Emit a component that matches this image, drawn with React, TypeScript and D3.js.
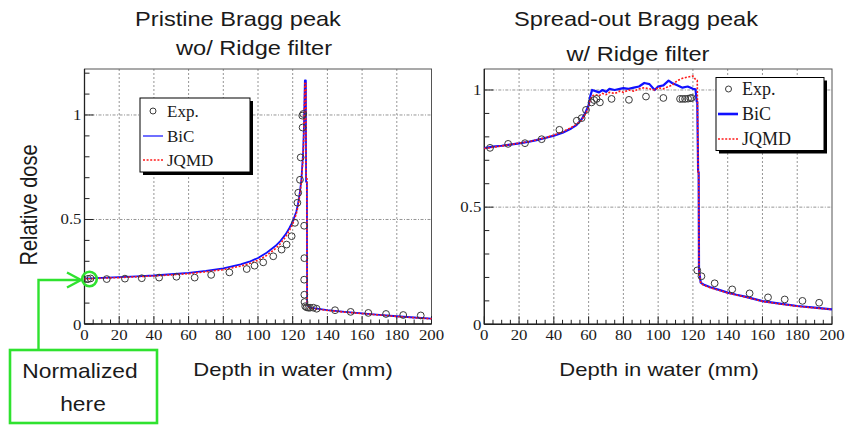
import React from 'react';
import * as d3 from 'd3';

// ---------- Left panel: pristine Bragg peak (wo/ ridge filter) ----------
const pristineDepth = [0, 5, 10, 20, 30, 40, 50, 60, 70, 80, 90, 95, 100, 105, 110, 113, 116, 118, 120, 122, 123, 124, 125, 126, 126.5, 127, 127.6, 127.7, 128.2, 128.3, 130, 135, 140, 150, 160, 170, 180, 190, 200];
const pristineBiC = [0.218, 0.219, 0.221, 0.224, 0.228, 0.232, 0.238, 0.245, 0.254, 0.266, 0.285, 0.298, 0.316, 0.341, 0.373, 0.398, 0.43, 0.458, 0.49, 0.536, 0.572, 0.622, 0.69, 0.82, 0.95, 1.165, 1.165, 0.68, 0.68, 0.09, 0.078, 0.072, 0.066, 0.058, 0.051, 0.044, 0.037, 0.031, 0.026];
const pristineJQMD = [0.216, 0.217, 0.219, 0.222, 0.226, 0.23, 0.235, 0.241, 0.25, 0.26, 0.277, 0.289, 0.305, 0.328, 0.36, 0.385, 0.418, 0.446, 0.478, 0.525, 0.56, 0.61, 0.68, 0.8, 0.93, 1.15, 1.15, 0.7, 0.7, 0.085, 0.076, 0.07, 0.065, 0.057, 0.05, 0.043, 0.036, 0.03, 0.025];
const pristineExpDepth = [2, 3.5, 12.8, 23.3, 33, 43, 53, 63.5, 73, 83.5, 93.5, 98, 103, 108.8, 113.6, 116.5, 119.4, 121.3, 122.7, 123.2, 124.2, 124.6, 125.5, 125.7, 126.1, 126.6, 126.7, 126.6, 126.7, 126.8, 127.2, 128, 129, 130, 131.9, 133.8, 144.4, 153.4, 163.6, 173.8, 183.7, 193.8];
const pristineExpDose = [0.216, 0.218, 0.215, 0.217, 0.219, 0.222, 0.226, 0.222, 0.235, 0.247, 0.263, 0.279, 0.295, 0.324, 0.356, 0.38, 0.42, 0.484, 0.58, 0.628, 0.69, 0.797, 0.997, 0.94, 1.005, 0.47, 0.315, 0.212, 0.14, 0.105, 0.085, 0.08, 0.078, 0.078, 0.078, 0.073, 0.066, 0.058, 0.053, 0.048, 0.043, 0.041];

// ---------- Right panel: spread-out Bragg peak (w/ ridge filter) ----------
const sobpDepth = [0, 5, 10, 15, 20, 25, 30, 35, 40, 45, 50, 53, 56, 58, 60, 61, 62, 64, 66, 68, 70, 72, 75, 78, 80, 83, 86, 89, 92, 95, 98, 100, 103, 106, 108, 111, 114, 117, 120, 121.5, 122.2, 122.5, 123, 123.3, 123.5, 124.5, 126, 130, 135, 140, 145, 150, 160, 170, 180, 190, 200];
const sobpBiC = [0.752, 0.758, 0.762, 0.767, 0.772, 0.778, 0.786, 0.795, 0.805, 0.818, 0.836, 0.85, 0.875, 0.9, 0.935, 0.975, 1.0, 0.995, 0.99, 1.0, 0.992, 1.005, 1.0, 1.005, 1.008, 1.005, 1.01, 1.015, 1.03, 1.025, 1.0, 1.015, 1.02, 1.04, 1.03, 1.02, 1.01, 1.015, 1.005, 1.003, 0.95, 0.95, 0.65, 0.65, 0.23, 0.178, 0.17, 0.158, 0.147, 0.135, 0.126, 0.118, 0.099, 0.088, 0.078, 0.071, 0.064];
const sobpJQMD = [0.75, 0.756, 0.761, 0.767, 0.773, 0.779, 0.787, 0.796, 0.807, 0.821, 0.84, 0.853, 0.872, 0.895, 0.925, 0.96, 0.975, 0.98, 0.975, 0.985, 0.98, 0.99, 0.985, 0.995, 0.99, 1.0, 0.995, 1.005, 1.01, 1.005, 1.0, 1.01, 1.005, 1.015, 1.02, 1.04, 1.05, 1.055, 1.06, 1.045, 1.04, 1.04, 0.65, 0.65, 0.23, 0.175, 0.168, 0.156, 0.145, 0.134, 0.125, 0.117, 0.098, 0.087, 0.077, 0.07, 0.063];
const sobpExpDepth = [3.3, 13.7, 23.4, 33, 43.2, 53.2, 56, 58.5, 61.7, 63.2, 64.6, 66.5, 73.2, 83.2, 93, 103, 112.6, 114, 115.5, 117.2, 118.5, 119.3, 122.5, 124.9, 132.5, 142.6, 152.6, 163.2, 172.8, 183, 192.6];
const sobpExpDose = [0.753, 0.77, 0.773, 0.79, 0.83, 0.869, 0.88, 0.915, 0.947, 0.957, 0.962, 0.947, 0.962, 0.958, 0.972, 0.966, 0.962, 0.962, 0.962, 0.963, 0.965, 0.966, 0.23, 0.205, 0.175, 0.149, 0.132, 0.115, 0.106, 0.1, 0.092];

// ---------- Axis ticks & labels ----------
const xMajorTicks = [0, 20, 40, 60, 80, 100, 120, 140, 160, 180, 200];
const xGridTicks = [20, 40, 60, 80, 100, 120, 140, 160, 180];
const yLabelTicks = [0, 0.5, 1];
const yGridTicks = [0.5, 1];
const legendLabels = ['Exp.', 'BiC', 'JQMD'];
const leftTitle = ['Pristine Bragg peak', 'wo/ Ridge filter'];
const rightTitle = ['Spread-out Bragg peak', 'w/ Ridge filter'];
const xAxisTitle = 'Depth in water (mm)';
const yAxisTitle = 'Relative dose';
const noteLines = ['Normalized', 'here'];

const SANS = 'Liberation Sans, Arial, sans-serif';
const SERIF = 'Liberation Serif, Times New Roman, serif';
const GREEN = '#2fe22f';
const TXT = '#1a1a1a';

type SP = { x: number; y: number; sx?: number; size: number; family: string; anchor?: string; children: React.ReactNode };
function SText({ x, y, sx = 1, size, family, anchor = 'middle', children }: SP) {
  return (
    <text transform={`translate(${x},${y}) scale(${sx},1)`} fontSize={size} fontFamily={family} textAnchor={anchor} fill={TXT}>
      {children}
    </text>
  );
}

type PanelProps = {
  x0: number; x1: number; yTop: number; yBot: number; yMax: number;
  depth: number[]; bic: number[]; jqmd: number[]; expX: number[]; expY: number[];
  bicWidth: number;
  legend: { x: number; y: number; w: number; h: number; cx: number; lx0: number; lx1: number; tx: number; rows: number[]; font: number; legBicWidth: number };
};

function Panel(p: PanelProps) {
  const x = d3.scaleLinear().domain([0, 200]).range([p.x0, p.x1]);
  const y = d3.scaleLinear().domain([0, p.yMax]).range([p.yBot, p.yTop]);
  const line = d3.line<number>().x((_, i) => x(p.depth[i])).y((v) => y(v));
  const xMinor = d3.range(0, 201, 5);
  const yMinor = d3.range(0, p.yMax + 1e-9, 0.1);
  const L = p.legend;
  return (
    <g>
      {/* grid */}
      {xGridTicks.map((t) => (
        <line key={'gx' + t} x1={x(t)} x2={x(t)} y1={p.yTop} y2={p.yBot} stroke="#8a8a8a" strokeWidth={0.9} strokeDasharray="2,2" />
      ))}
      {yGridTicks.map((t) => (
        <line key={'gy' + t} x1={p.x0} x2={p.x1} y1={y(t)} y2={y(t)} stroke="#8a8a8a" strokeWidth={0.9} strokeDasharray="3,1.5,1,1.5" />
      ))}
      {/* frame */}
      <rect x={p.x0} y={p.yTop} width={p.x1 - p.x0} height={p.yBot - p.yTop} fill="none" stroke="#555" strokeWidth={1} />
      <line x1={p.x0} x2={p.x1} y1={p.yBot} y2={p.yBot} stroke="#222" strokeWidth={1.6} />
      <line x1={p.x0} x2={p.x0} y1={p.yTop} y2={p.yBot} stroke="#222" strokeWidth={1.3} />
      {/* x ticks */}
      {xMinor.map((t) => (
        <line key={'xt' + t} x1={x(t)} x2={x(t)} y1={p.yBot} y2={p.yBot - (t % 20 === 0 ? 8 : 4.5)} stroke="#222" strokeWidth={1} />
      ))}
      {/* y ticks */}
      {yMinor.map((t, i) => (
        <line key={'yt' + i} x1={p.x0} x2={p.x0 + (i % 5 === 0 ? 9 : 5)} y1={y(t)} y2={y(t)} stroke="#222" strokeWidth={1} />
      ))}
      {/* tick labels */}
      {xMajorTicks.map((t) => (
        <SText key={'xl' + t} x={x(t)} y={p.yBot + 16} sx={1.12} size={15} family={SERIF}>{String(t)}</SText>
      ))}
      {yLabelTicks.map((t) => (
        <SText key={'yl' + t} x={p.x0 - 3} y={y(t) + (t === 0 ? 6 : 5)} sx={1.12} size={15} family={SERIF} anchor="end">{String(t)}</SText>
      ))}
      {/* curves */}
      <path d={line(p.bic) || ''} fill="none" stroke="#1010ff" strokeWidth={p.bicWidth} strokeLinejoin="round" />
      <path d={line(p.jqmd) || ''} fill="none" stroke="#ff1a1a" strokeWidth={1.6} strokeDasharray="2,1.6" />
      {/* experimental points */}
      {p.expX.map((d, i) => (
        <circle key={'e' + i} cx={x(d)} cy={y(p.expY[i])} r={3.4} fill="none" stroke="#3a3a3a" strokeWidth={1} />
      ))}
      {/* legend */}
      <rect x={L.x + 3} y={L.y + 3} width={L.w} height={L.h} fill="#000" />
      <rect x={L.x} y={L.y} width={L.w} height={L.h} fill="#fff" stroke="#000" strokeWidth={1} />
      <circle cx={L.cx} cy={L.rows[0]} r={3} fill="none" stroke="#3a3a3a" strokeWidth={1} />
      <line x1={L.lx0} x2={L.lx1} y1={L.rows[1]} y2={L.rows[1]} stroke="#1010ff" strokeWidth={L.legBicWidth} />
      <line x1={L.lx0} x2={L.lx1} y1={L.rows[2]} y2={L.rows[2]} stroke="#ff1a1a" strokeWidth={1.6} strokeDasharray="2,1.6" />
      {legendLabels.map((s, i) => (
        <text key={'lg' + i} x={L.tx} y={L.rows[i] + L.font * 0.33} fontSize={L.font} fontFamily={SERIF} fill={TXT}>{s}</text>
      ))}
    </g>
  );
}

export default function App() {
  return (
    <svg width={845} height={425} viewBox="0 0 845 425" style={{ display: 'block', position: 'absolute', left: 0, top: 0, background: '#fff' }}>
      <rect x={0} y={0} width={845} height={425} fill="#fff" />
      {/* titles */}
      <SText x={238} y={26} sx={1.18} size={20} family={SANS}>{leftTitle[0]}</SText>
      <SText x={254} y={55} sx={1.18} size={20} family={SANS}>{leftTitle[1]}</SText>
      <SText x={636} y={26} sx={1.18} size={20} family={SANS}>{rightTitle[0]}</SText>
      <SText x={638} y={61} sx={1.18} size={20} family={SANS}>{rightTitle[1]}</SText>

      <Panel x0={84.5} x1={431.5} yTop={69} yBot={324} yMax={1.22}
        depth={pristineDepth} bic={pristineBiC} jqmd={pristineJQMD} expX={pristineExpDepth} expY={pristineExpDose}
        bicWidth={1.8}
        legend={{ x: 140, y: 98, w: 110, h: 74, cx: 153, lx0: 143, lx1: 163, tx: 167, rows: [111, 136, 160], font: 17, legBicWidth: 1.2 }} />
      <Panel x0={484.3} x1={832} yTop={69} yBot={324.3} yMax={1.0896}
        depth={sobpDepth} bic={sobpBiC} jqmd={sobpJQMD} expX={sobpExpDepth} expY={sobpExpDose}
        bicWidth={2.2}
        legend={{ x: 716, y: 77.5, w: 108, h: 73, cx: 728.5, lx0: 718, lx1: 738, tx: 742, rows: [89, 114, 139], font: 18, legBicWidth: 2.6 }} />

      {/* axis titles */}
      <SText x={293} y={376} sx={1.16} size={19} family={SANS}>{xAxisTitle}</SText>
      <SText x={659} y={376} sx={1.16} size={19} family={SANS}>{xAxisTitle}</SText>
      <text transform="translate(37,205) rotate(-90) scale(1,1.17)" fontSize={20} fontFamily={SANS} textAnchor="middle" fill={TXT}>{yAxisTitle}</text>

      {/* normalization annotation */}
      <rect x={10} y={350} width={147} height={73} fill="none" stroke={GREEN} strokeWidth={2.6} />
      <polyline points="38.5,350 38.5,280 80,280" fill="none" stroke={GREEN} strokeWidth={2.4} />
      <polyline points="67,272.5 81,280 67,287.5" fill="none" stroke={GREEN} strokeWidth={2.4} />
      <circle cx={89.5} cy={279} r={7.3} fill="none" stroke={GREEN} strokeWidth={2.6} />
      <SText x={80} y={378} sx={1.14} size={20} family={SANS}>{noteLines[0]}</SText>
      <SText x={83} y={411} sx={1.14} size={20} family={SANS}>{noteLines[1]}</SText>
    </svg>
  );
}
